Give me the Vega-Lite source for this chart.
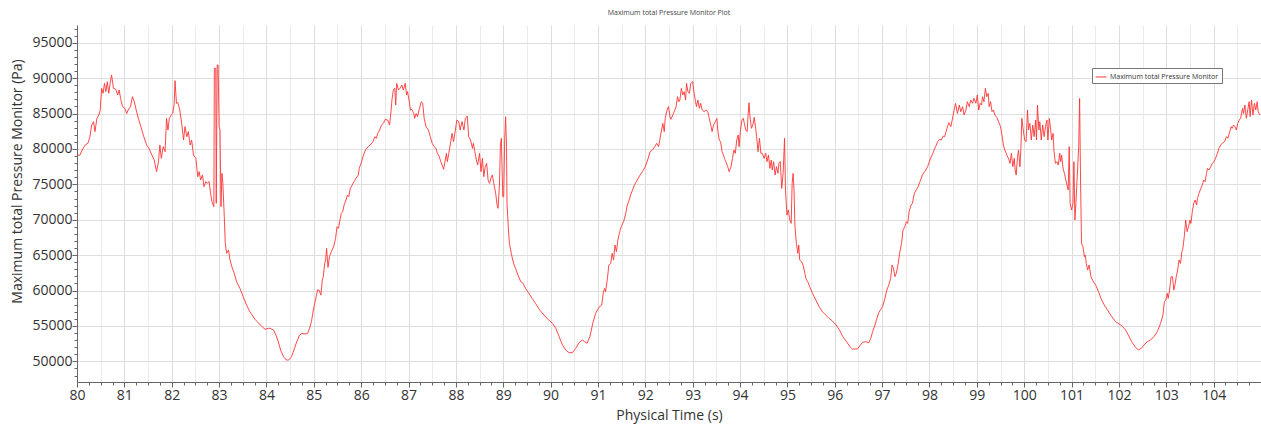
{
"$schema": "https://vega.github.io/schema/vega-lite/v6.json",
"width": 1184, "height": 357, "autosize": "none",
"padding": {"left": 77, "top": 25, "right": 0, "bottom": 48},
"background": "white",
"config": {"view": {"stroke": null}, "font": "Open Sans"},
"title": {"text": "Maximum total Pressure Monitor Plot", "fontSize": 7, "font": "Open Sans", "fontWeight": "normal", "color": "#444", "anchor": "middle", "offset": 6},
"data": {"values": [
{"t":80.01,"p":79140},{"t":80.06,"p":79100},{"t":80.11,"p":79850},{"t":80.17,"p":80550},{"t":80.23,"p":80800},{"t":80.27,"p":81640},{"t":80.31,"p":83380},{"t":80.35,"p":83850},{"t":80.38,"p":82440},{"t":80.42,"p":84320},{"t":80.46,"p":84790},{"t":80.49,"p":85500},{"t":80.52,"p":88560},{"t":80.55,"p":87850},{"t":80.58,"p":89260},{"t":80.61,"p":88090},{"t":80.64,"p":89500},{"t":80.67,"p":87850},{"t":80.70,"p":89260},{"t":80.73,"p":90440},{"t":80.77,"p":88560},{"t":80.82,"p":88420},{"t":80.86,"p":87610},{"t":80.89,"p":88320},{"t":80.92,"p":87140},{"t":80.96,"p":85970},{"t":81.01,"p":85730},{"t":81.05,"p":85000},{"t":81.08,"p":85500},{"t":81.13,"p":85970},{"t":81.17,"p":87380},{"t":81.21,"p":86670},{"t":81.25,"p":85500},{"t":81.30,"p":84180},{"t":81.35,"p":83140},{"t":81.41,"p":81730},{"t":81.47,"p":80550},{"t":81.52,"p":80080},{"t":81.58,"p":79140},{"t":81.63,"p":78440},{"t":81.68,"p":76790},{"t":81.72,"p":78200},{"t":81.75,"p":80550},{"t":81.78,"p":78670},{"t":81.82,"p":80320},{"t":81.86,"p":79610},{"t":81.89,"p":84320},{"t":81.92,"p":82670},{"t":81.95,"p":84320},{"t":81.99,"p":84790},{"t":82.02,"p":85000},{"t":82.05,"p":86200},{"t":82.07,"p":89640},{"t":82.10,"p":86440},{"t":82.13,"p":86530},{"t":82.17,"p":85500},{"t":82.21,"p":83610},{"t":82.25,"p":81260},{"t":82.28,"p":83140},{"t":82.32,"p":81730},{"t":82.35,"p":82440},{"t":82.39,"p":80550},{"t":82.42,"p":81260},{"t":82.46,"p":79140},{"t":82.51,"p":78670},{"t":82.55,"p":76080},{"t":82.58,"p":76790},{"t":82.61,"p":75610},{"t":82.65,"p":76320},{"t":82.68,"p":74670},{"t":82.72,"p":75380},{"t":82.75,"p":75140},{"t":82.79,"p":75380},{"t":82.82,"p":73730},{"t":82.85,"p":72550},{"t":82.89,"p":71850},{"t":82.90,"p":91380},{"t":82.93,"p":91380},{"t":82.94,"p":72320},{"t":82.96,"p":91850},{"t":82.98,"p":91850},{"t":83.00,"p":83140},{"t":83.02,"p":82670},{"t":83.04,"p":71850},{"t":83.06,"p":76550},{"t":83.08,"p":75140},{"t":83.11,"p":70440},{"t":83.13,"p":66670},{"t":83.16,"p":65260},{"t":83.20,"p":65730},{"t":83.23,"p":64320},{"t":83.27,"p":63370},{"t":83.32,"p":62430},{"t":83.37,"p":61250},{"t":83.44,"p":60310},{"t":83.51,"p":59140},{"t":83.58,"p":57960},{"t":83.65,"p":57020},{"t":83.76,"p":55940},{"t":83.87,"p":55140},{"t":83.97,"p":54530},{"t":84.04,"p":54670},
{"t":84.08,"p":54670},{"t":84.15,"p":54430},{"t":84.20,"p":53720},{"t":84.25,"p":52780},{"t":84.30,"p":51600},{"t":84.36,"p":50660},{"t":84.42,"p":50190},{"t":84.47,"p":50190},{"t":84.53,"p":50660},{"t":84.58,"p":51600},{"t":84.64,"p":52780},{"t":84.70,"p":53720},{"t":84.75,"p":53960},{"t":84.82,"p":53870},{"t":84.87,"p":53960},{"t":84.91,"p":54670},{"t":84.95,"p":55600},{"t":84.99,"p":57250},{"t":85.02,"p":58200},{"t":85.05,"p":59140},{"t":85.08,"p":60080},{"t":85.11,"p":60080},{"t":85.15,"p":59370},{"t":85.18,"p":61490},{"t":85.20,"p":61960},{"t":85.23,"p":63840},{"t":85.25,"p":64320},{"t":85.27,"p":65960},{"t":85.30,"p":63280},{"t":85.33,"p":64790},{"t":85.37,"p":65490},{"t":85.42,"p":66200},{"t":85.46,"p":67380},{"t":85.49,"p":69020},{"t":85.52,"p":68790},{"t":85.56,"p":70200},{"t":85.58,"p":70900},{"t":85.61,"p":71140},{"t":85.64,"p":72080},{"t":85.68,"p":72790},{"t":85.71,"p":73490},{"t":85.74,"p":73260},{"t":85.77,"p":74430},{"t":85.81,"p":74900},{"t":85.85,"p":75380},{"t":85.89,"p":75850},{"t":85.94,"p":76320},{"t":85.96,"p":77260},{"t":86.01,"p":78200},{"t":86.05,"p":79140},{"t":86.09,"p":79850},{"t":86.15,"p":80320},{"t":86.19,"p":80550},{"t":86.25,"p":81020},{"t":86.29,"p":81730},{"t":86.32,"p":81500},{"t":86.35,"p":82200},{"t":86.39,"p":82670},{"t":86.43,"p":83380},{"t":86.47,"p":83610},{"t":86.51,"p":84180},{"t":86.56,"p":84080},{"t":86.60,"p":83380},{"t":86.63,"p":85260},{"t":86.65,"p":86910},{"t":86.68,"p":88320},{"t":86.71,"p":88560},{"t":86.73,"p":86200},{"t":86.75,"p":89260},{"t":86.79,"p":88320},{"t":86.82,"p":88560},{"t":86.86,"p":89030},{"t":86.89,"p":88320},{"t":86.93,"p":89260},{"t":86.96,"p":87610},{"t":86.98,"p":88090},{"t":87.01,"p":86910},{"t":87.04,"p":85500},{"t":87.07,"p":85590},{"t":87.11,"p":85000},{"t":87.13,"p":84320},{"t":87.16,"p":85000},{"t":87.19,"p":84550},{"t":87.23,"p":85730},{"t":87.27,"p":86670},{"t":87.30,"p":86440},{"t":87.33,"p":84320},{"t":87.37,"p":83140},{"t":87.42,"p":82670},{"t":87.46,"p":81730},{"t":87.50,"p":80790},{"t":87.54,"p":80320},{"t":87.58,"p":80080},{"t":87.61,"p":79380},{"t":87.65,"p":78910},{"t":87.68,"p":78200},{"t":87.71,"p":77730},{"t":87.74,"p":77120},{"t":87.77,"p":78200},{"t":87.80,"p":79380},{"t":87.82,"p":78200},{"t":87.85,"p":79380},{"t":87.88,"p":80550},{"t":87.92,"p":82200},{"t":87.95,"p":81020},{"t":87.99,"p":82670},{"t":88.02,"p":84080},{"t":88.06,"p":83850},{"t":88.09,"p":82670},{"t":88.13,"p":83850},
{"t":88.17,"p":82670},{"t":88.20,"p":84320},{"t":88.24,"p":84650},{"t":88.27,"p":81730},{"t":88.31,"p":81260},{"t":88.35,"p":80080},{"t":88.37,"p":80790},{"t":88.40,"p":79610},{"t":88.44,"p":78200},{"t":88.46,"p":77730},{"t":88.50,"p":79380},{"t":88.53,"p":76790},{"t":88.56,"p":78670},{"t":88.59,"p":76080},{"t":88.62,"p":77490},{"t":88.65,"p":77960},{"t":88.68,"p":75610},{"t":88.71,"p":75140},{"t":88.75,"p":76080},{"t":88.77,"p":76320},{"t":88.80,"p":75140},{"t":88.84,"p":73730},{"t":88.87,"p":72080},{"t":88.89,"p":71610},{"t":88.92,"p":74900},{"t":88.94,"p":80550},{"t":88.96,"p":81500},{"t":88.99,"p":73260},{"t":89.01,"p":73260},{"t":89.03,"p":81260},{"t":89.05,"p":84550},{"t":89.07,"p":80320},{"t":89.08,"p":72320},{"t":89.11,"p":68550},{"t":89.13,"p":66670},{"t":89.17,"p":65260},{"t":89.20,"p":64320},{"t":89.23,"p":63610},{"t":89.26,"p":63140},{"t":89.31,"p":62200},{"t":89.37,"p":61250},{"t":89.42,"p":61020},{"t":89.47,"p":60310},{"t":89.54,"p":59610},{"t":89.61,"p":58900},{"t":89.68,"p":58200},{"t":89.77,"p":57250},{"t":89.86,"p":56550},{"t":89.96,"p":55840},{"t":90.04,"p":55370},{"t":90.11,"p":54670},{"t":90.18,"p":53490},{"t":90.25,"p":52310},{"t":90.32,"p":51600},{"t":90.39,"p":51230},{"t":90.46,"p":51230},{"t":90.53,"p":51840},{"t":90.60,"p":52640},{"t":90.67,"p":53020},{"t":90.72,"p":52780},{"t":90.77,"p":52550},{"t":90.83,"p":53490},{"t":90.89,"p":55370},{"t":90.95,"p":56780},{"t":91.02,"p":57630},{"t":91.08,"p":57960},{"t":91.11,"p":59610},{"t":91.14,"p":60310},{"t":91.16,"p":59840},{"t":91.20,"p":61720},{"t":91.23,"p":63610},{"t":91.27,"p":63840},{"t":91.30,"p":65260},{"t":91.33,"p":64320},{"t":91.36,"p":66430},{"t":91.39,"p":65490},{"t":91.42,"p":67140},{"t":91.46,"p":68320},{"t":91.49,"p":69020},{"t":91.54,"p":69730},{"t":91.58,"p":70670},{"t":91.62,"p":72080},{"t":91.66,"p":72790},{"t":91.69,"p":73490},{"t":91.73,"p":74200},{"t":91.77,"p":74900},{"t":91.83,"p":75610},{"t":91.89,"p":76320},{"t":91.94,"p":76790},{"t":92.00,"p":77490},{"t":92.06,"p":78670},{"t":92.10,"p":79610},{"t":92.15,"p":79850},{"t":92.20,"p":80320},{"t":92.24,"p":80790},{"t":92.28,"p":80320},
{"t":92.33,"p":82200},{"t":92.37,"p":83610},{"t":92.40,"p":82440},{"t":92.42,"p":84320},{"t":92.46,"p":85500},{"t":92.49,"p":85970},{"t":92.52,"p":84550},{"t":92.54,"p":84180},{"t":92.58,"p":84790},{"t":92.61,"p":85260},{"t":92.65,"p":85970},{"t":92.68,"p":87380},{"t":92.71,"p":86670},{"t":92.73,"p":86910},{"t":92.76,"p":88560},{"t":92.79,"p":87610},{"t":92.82,"p":88090},{"t":92.85,"p":86910},{"t":92.87,"p":89260},{"t":92.90,"p":88090},{"t":92.93,"p":87850},{"t":92.96,"p":89260},{"t":93.00,"p":89500},{"t":93.03,"p":87850},{"t":93.06,"p":86670},{"t":93.08,"p":85970},{"t":93.11,"p":86910},{"t":93.14,"p":85730},{"t":93.17,"p":86440},{"t":93.20,"p":85500},{"t":93.24,"p":85260},{"t":93.28,"p":85500},{"t":93.32,"p":85260},{"t":93.35,"p":84320},{"t":93.39,"p":83140},{"t":93.41,"p":82440},{"t":93.44,"p":83380},{"t":93.48,"p":83850},{"t":93.51,"p":84320},{"t":93.53,"p":82670},{"t":93.56,"p":81260},{"t":93.59,"p":81020},{"t":93.62,"p":79610},{"t":93.65,"p":79140},{"t":93.67,"p":78670},{"t":93.70,"p":78200},{"t":93.74,"p":77490},{"t":93.77,"p":76790},{"t":93.81,"p":77490},{"t":93.84,"p":78670},{"t":93.87,"p":79850},{"t":93.90,"p":79380},{"t":93.93,"p":81260},{"t":93.96,"p":81970},{"t":93.98,"p":80320},{"t":94.01,"p":82670},{"t":94.04,"p":84080},{"t":94.07,"p":84320},{"t":94.09,"p":83610},{"t":94.12,"p":82670},{"t":94.15,"p":82440},{"t":94.17,"p":84790},{"t":94.19,"p":86530},{"t":94.21,"p":84550},{"t":94.24,"p":82910},{"t":94.27,"p":83380},{"t":94.30,"p":84460},{"t":94.33,"p":82910},{"t":94.35,"p":81730},{"t":94.38,"p":79610},{"t":94.41,"p":81500},{"t":94.44,"p":79380},{"t":94.47,"p":79380},{"t":94.51,"p":78670},{"t":94.54,"p":79380},{"t":94.57,"p":78200},{"t":94.60,"p":79140},{"t":94.63,"p":77260},{"t":94.66,"p":78440},{"t":94.68,"p":77020},{"t":94.71,"p":78200},{"t":94.74,"p":76320},{"t":94.77,"p":77490},{"t":94.80,"p":76550},{"t":94.82,"p":77960},{"t":94.85,"p":78200},{"t":94.88,"p":74430},{"t":94.91,"p":76550},{"t":94.94,"p":81500},{"t":94.96,"p":74200},{"t":94.99,"p":70670},{"t":95.02,"p":71380},{"t":95.05,"p":69960},{"t":95.08,"p":69490},{"t":95.10,"p":75140},{"t":95.12,"p":76550},{"t":95.14,"p":74200},{"t":95.16,"p":69020},{"t":95.19,"p":66670},{"t":95.22,"p":65260},{"t":95.24,"p":66430},{"t":95.26,"p":64320},{"t":95.30,"p":64080},{"t":95.33,"p":63610},{"t":95.37,"p":62430},{"t":95.39,"p":61720},{"t":95.43,"p":61250},{"t":95.47,"p":60550},{"t":95.53,"p":59610},{"t":95.60,"p":58670},{"t":95.67,"p":57730},{"t":95.74,"p":57020},{"t":95.81,"p":56550},{"t":95.88,"p":56080},{"t":95.95,"p":55700},{"t":96.03,"p":55140},{"t":96.10,"p":54430},{"t":96.17,"p":53490},{"t":96.25,"p":52780},{"t":96.32,"p":52080},{"t":96.37,"p":51750},
{"t":96.41,"p":51750},{"t":96.48,"p":51750},{"t":96.54,"p":52310},{"t":96.59,"p":52690},{"t":96.66,"p":52780},{"t":96.72,"p":52640},{"t":96.76,"p":53250},{"t":96.80,"p":54200},{"t":96.85,"p":55140},{"t":96.89,"p":56080},{"t":96.93,"p":56880},{"t":96.97,"p":57350},{"t":97.01,"p":57730},{"t":97.06,"p":58900},{"t":97.10,"p":60080},{"t":97.14,"p":60780},{"t":97.18,"p":61720},{"t":97.21,"p":63610},{"t":97.24,"p":63140},{"t":97.27,"p":61960},{"t":97.30,"p":62430},{"t":97.34,"p":63840},{"t":97.37,"p":65260},{"t":97.41,"p":66670},{"t":97.44,"p":68550},{"t":97.48,"p":69020},{"t":97.51,"p":69730},{"t":97.54,"p":69490},{"t":97.57,"p":71140},{"t":97.61,"p":72080},{"t":97.64,"p":72320},{"t":97.68,"p":73730},{"t":97.72,"p":74200},{"t":97.76,"p":74670},{"t":97.80,"p":75380},{"t":97.85,"p":76320},{"t":97.90,"p":76790},{"t":97.96,"p":77490},{"t":98.01,"p":78440},{"t":98.07,"p":79380},{"t":98.13,"p":80320},{"t":98.17,"p":81020},{"t":98.21,"p":81360},{"t":98.25,"p":81260},{"t":98.29,"p":81820},{"t":98.32,"p":81730},{"t":98.37,"p":82910},{"t":98.41,"p":83710},{"t":98.45,"p":83140},{"t":98.48,"p":84080},{"t":98.52,"p":85500},{"t":98.55,"p":86440},{"t":98.59,"p":85000},{"t":98.63,"p":86200},{"t":98.66,"p":85260},{"t":98.70,"p":85970},{"t":98.73,"p":84790},{"t":98.77,"p":85500},{"t":98.80,"p":86670},{"t":98.84,"p":85970},{"t":98.87,"p":86910},{"t":98.91,"p":86440},{"t":98.94,"p":87140},{"t":98.98,"p":86440},{"t":99.01,"p":87610},{"t":99.04,"p":85500},{"t":99.07,"p":86440},{"t":99.10,"p":86200},{"t":99.12,"p":87380},{"t":99.15,"p":86670},{"t":99.18,"p":88560},{"t":99.21,"p":87380},{"t":99.24,"p":87850},{"t":99.26,"p":85970},{"t":99.29,"p":86670},{"t":99.32,"p":85260},{"t":99.35,"p":85500},{"t":99.38,"p":84790},{"t":99.42,"p":84460},{"t":99.46,"p":83850},{"t":99.50,"p":83140},{"t":99.53,"p":81970},{"t":99.56,"p":80550},{"t":99.59,"p":79850},{"t":99.62,"p":79380},{"t":99.64,"p":79000},{"t":99.67,"p":78670},{"t":99.70,"p":77960},{"t":99.73,"p":79380},{"t":99.76,"p":77490},{"t":99.79,"p":78670},{"t":99.81,"p":77020},{"t":99.83,"p":76320},{"t":99.86,"p":78910},{"t":99.88,"p":79850},{"t":99.91,"p":77490},{"t":99.93,"p":80080},{"t":99.95,"p":84320},{"t":99.98,"p":82670},{"t":100.01,"p":81260},{"t":100.04,"p":81020},{"t":100.07,"p":85500},{"t":100.09,"p":82670},{"t":100.12,"p":83610},{"t":100.15,"p":81260},{"t":100.18,"p":83380},{"t":100.21,"p":81730},{"t":100.24,"p":84080},{"t":100.26,"p":81260},{"t":100.28,"p":86200},{"t":100.31,"p":82670},{"t":100.33,"p":83850},{"t":100.36,"p":81260},{"t":100.39,"p":83380},{"t":100.42,"p":81730},{"t":100.45,"p":83140},{"t":100.48,"p":84080},{"t":100.50,"p":81260},
{"t":100.53,"p":84320},{"t":100.56,"p":82670},{"t":100.58,"p":81260},{"t":100.61,"p":82200},{"t":100.63,"p":79610},{"t":100.66,"p":77960},{"t":100.69,"p":78200},{"t":100.72,"p":77730},{"t":100.75,"p":79380},{"t":100.77,"p":78200},{"t":100.79,"p":79140},{"t":100.82,"p":77260},{"t":100.85,"p":76550},{"t":100.88,"p":75610},{"t":100.91,"p":74670},{"t":100.93,"p":74200},{"t":100.95,"p":80320},{"t":100.97,"p":72320},{"t":101.00,"p":71380},{"t":101.03,"p":72320},{"t":101.05,"p":78200},{"t":101.07,"p":69960},{"t":101.09,"p":72080},{"t":101.12,"p":76080},{"t":101.15,"p":80320},{"t":101.17,"p":87140},{"t":101.19,"p":75610},{"t":101.21,"p":66670},{"t":101.24,"p":66200},{"t":101.27,"p":64790},{"t":101.29,"p":65020},{"t":101.31,"p":63840},{"t":101.34,"p":62900},{"t":101.37,"p":63610},{"t":101.41,"p":61960},{"t":101.46,"p":61250},{"t":101.51,"p":60780},{"t":101.57,"p":59840},{"t":101.62,"p":58900},{"t":101.69,"p":57960},{"t":101.76,"p":57250},{"t":101.85,"p":56310},{"t":101.93,"p":55600},{"t":102.04,"p":55140},{"t":102.13,"p":54530},{"t":102.20,"p":53720},{"t":102.27,"p":52780},{"t":102.34,"p":52080},{"t":102.41,"p":51600},{"t":102.47,"p":51840},{"t":102.53,"p":52310},{"t":102.60,"p":52780},{"t":102.67,"p":53020},{"t":102.74,"p":53490},{"t":102.81,"p":54200},{"t":102.88,"p":55370},{"t":102.93,"p":56550},{"t":102.96,"p":58430},{"t":102.99,"p":58670},{"t":103.02,"p":59610},{"t":103.04,"p":58900},{"t":103.07,"p":60080},{"t":103.10,"p":61960},{"t":103.13,"p":61960},{"t":103.16,"p":60080},{"t":103.19,"p":61020},{"t":103.21,"p":61960},{"t":103.24,"p":62900},{"t":103.27,"p":64320},{"t":103.30,"p":63840},{"t":103.33,"p":65490},{"t":103.35,"p":65960},{"t":103.38,"p":67610},{"t":103.41,"p":69960},{"t":103.44,"p":68320},{"t":103.47,"p":69020},{"t":103.50,"p":69960},{"t":103.52,"p":69490},{"t":103.55,"p":71140},{"t":103.58,"p":72320},{"t":103.61,"p":72790},{"t":103.64,"p":72080},{"t":103.66,"p":73020},{"t":103.69,"p":73730},{"t":103.73,"p":74430},{"t":103.76,"p":74900},{"t":103.79,"p":75610},{"t":103.82,"p":75380},{"t":103.85,"p":76550},{"t":103.87,"p":77260},{"t":103.90,"p":77020},{"t":103.94,"p":77490},{"t":103.97,"p":77960},{"t":104.01,"p":78200},{"t":104.04,"p":78670},{"t":104.08,"p":79380},{"t":104.11,"p":80080},{"t":104.15,"p":80550},{"t":104.18,"p":80790},{"t":104.23,"p":81020},{"t":104.27,"p":81730},{"t":104.30,"p":81500},{"t":104.34,"p":82440},{"t":104.37,"p":83140},{"t":104.39,"p":82910},{"t":104.42,"p":83380},{"t":104.45,"p":83140},{"t":104.48,"p":82670},{"t":104.51,"p":83610},{"t":104.54,"p":84080},{"t":104.57,"p":84320},{"t":104.61,"p":85730},{"t":104.63,"p":85000},{"t":104.66,"p":86200},{"t":104.69,"p":84320},{"t":104.72,"p":85500},{"t":104.75,"p":86670},{"t":104.77,"p":84550},{"t":104.80,"p":86910},{"t":104.83,"p":84790},{"t":104.86,"p":86440},{"t":104.89,"p":85500},{"t":104.92,"p":86670},{"t":104.94,"p":85260},{"t":104.98,"p":84790}
]},
"mark": {"type": "line", "strokeWidth": 1, "clip": true, "strokeOpacity": 0.9},
"encoding": {
"x": {"field": "t", "type": "quantitative", "scale": {"domain": [80, 105], "nice": false, "zero": false},
 "axis": {"values": [80,80.25,80.5,80.75,81,81.25,81.5,81.75,82,82.25,82.5,82.75,83,83.25,83.5,83.75,84,84.25,84.5,84.75,85,85.25,85.5,85.75,86,86.25,86.5,86.75,87,87.25,87.5,87.75,88,88.25,88.5,88.75,89,89.25,89.5,89.75,90,90.25,90.5,90.75,91,91.25,91.5,91.75,92,92.25,92.5,92.75,93,93.25,93.5,93.75,94,94.25,94.5,94.75,95,95.25,95.5,95.75,96,96.25,96.5,96.75,97,97.25,97.5,97.75,98,98.25,98.5,98.75,99,99.25,99.5,99.75,100,100.25,100.5,100.75,101,101.25,101.5,101.75,102,102.25,102.5,102.75,103,103.25,103.5,103.75,104,104.25,104.5,104.75],
  "labelExpr": "datum.value % 1 == 0 ? format(datum.value, 'd') : ''",
  "title": "Physical Time (s)", "titleFontSize": 14, "titleFontWeight": "normal", "titleColor": "#333", "titleFont": "Open Sans", "titlePadding": 6,
  "labelFontSize": 14, "labelColor": "#333", "labelFont": "Open Sans", "labelPadding": 1, "labelFlush": false, "labelOverlap": false,
  "tickSize": {"condition": {"test": "datum.value % 1 == 0", "value": 5}, "value": 3},
  "tickColor": "#666", "domainColor": "#666",
  "grid": true,
  "gridColor": {"condition": {"test": "datum.value % 1 == 0", "value": "#dcdcdc"}, "value": "#ebebeb"},
  "gridOpacity": {"condition": {"test": "datum.value % 0.5 == 0", "value": 1}, "value": 0}}},
"y": {"field": "p", "type": "quantitative", "scale": {"domain": [47090, 97500], "nice": false, "zero": false},
 "axis": {"values": [48000,49000,50000,51000,52000,53000,54000,55000,56000,57000,58000,59000,60000,61000,62000,63000,64000,65000,66000,67000,68000,69000,70000,71000,72000,73000,74000,75000,76000,77000,78000,79000,80000,81000,82000,83000,84000,85000,86000,87000,88000,89000,90000,91000,92000,93000,94000,95000,96000,97000],
  "labelExpr": "datum.value % 5000 == 0 ? format(datum.value, 'd') : ''",
  "title": "Maximum total Pressure Monitor (Pa)", "titleFontSize": 14, "titleFontWeight": "normal", "titleColor": "#333", "titleFont": "Open Sans",
  "titleX": -60, "titleY": 156, "titleAngle": -90, "titleAlign": "center", "titleBaseline": "middle",
  "labelFontSize": 14, "labelColor": "#333", "labelFont": "Open Sans", "labelPadding": 0, "labelOverlap": false,
  "tickSize": {"condition": {"test": "datum.value % 5000 == 0", "value": 5}, "value": 3},
  "tickColor": "#666", "domainColor": "#666",
  "grid": true, "gridColor": "#dedede",
  "gridOpacity": {"condition": {"test": "datum.value % 5000 == 0", "value": 1}, "value": 0}}},
"color": {"datum": "Maximum total Pressure Monitor", "type": "nominal", "scale": {"range": ["#ff3535"]},
 "legend": {"title": null, "orient": "none", "legendX": 1015, "legendY": 43, "strokeColor": "#777", "fillColor": "#ffffff", "padding": 3, "symbolType": "stroke", "symbolSize": 121, "symbolStrokeWidth": 1, "labelFontSize": 7, "labelFont": "Open Sans", "labelColor": "#333", "labelOffset": 3}}
}
}
